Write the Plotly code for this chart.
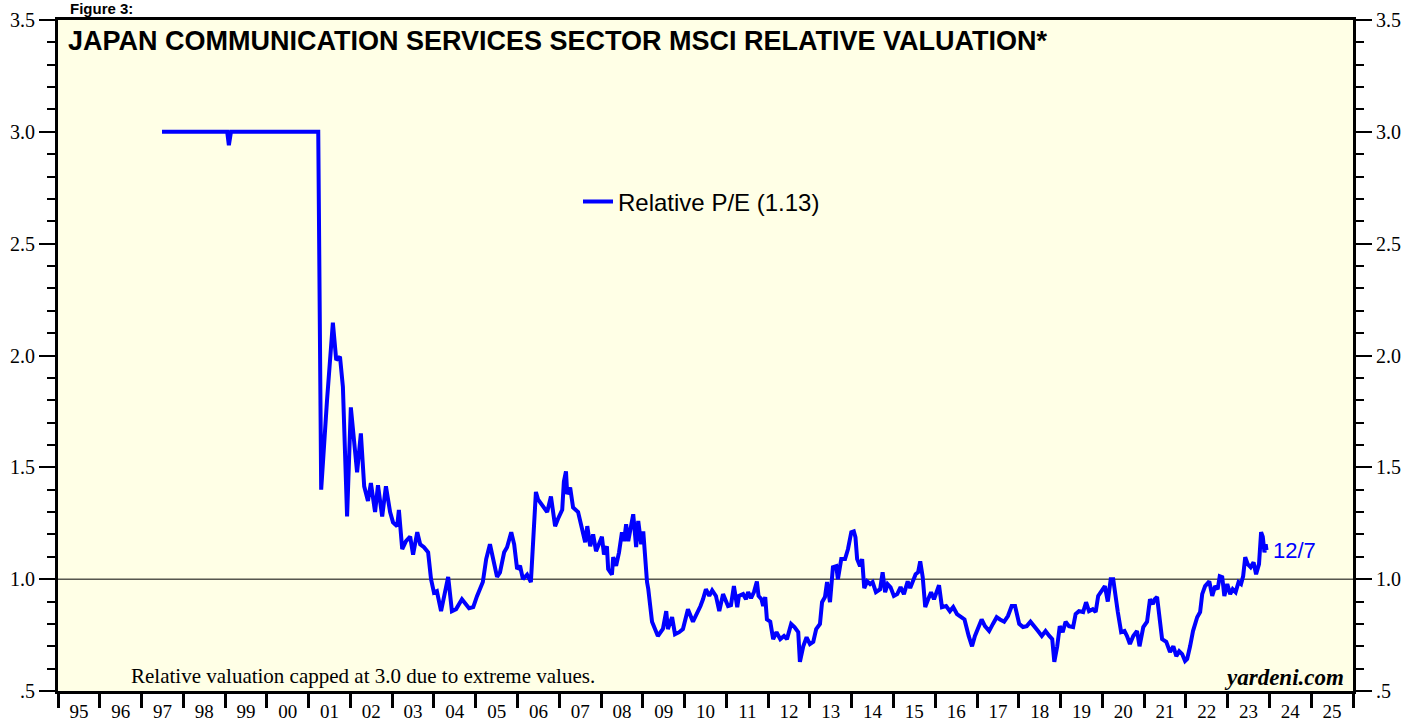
import plotly.graph_objects as go

# ---- data (decimal year, relative P/E) ----
years = [
    1997.49, 1999.05, 1999.09, 1999.14, 2001.23, 2001.30, 2001.44, 2001.58, 2001.66, 2001.75,
    2001.82, 2001.92, 2002.01, 2002.16, 2002.25, 2002.33, 2002.42, 2002.49, 2002.59, 2002.66,
    2002.76, 2002.85, 2002.95, 2003.02, 2003.12, 2003.16, 2003.24, 2003.33, 2003.43, 2003.50,
    2003.60, 2003.67, 2003.76, 2003.86, 2003.93, 2004.00, 2004.07, 2004.17, 2004.34, 2004.43,
    2004.53, 2004.67, 2004.84, 2004.94, 2005.03, 2005.17, 2005.25, 2005.34, 2005.51, 2005.58,
    2005.68, 2005.75, 2005.85, 2005.92, 2005.99, 2006.06, 2006.13, 2006.23, 2006.32, 2006.37,
    2006.44, 2006.49, 2006.61, 2006.71, 2006.80, 2006.90, 2006.97, 2007.07, 2007.11, 2007.16,
    2007.19, 2007.26, 2007.33, 2007.45, 2007.62, 2007.67, 2007.74, 2007.81, 2007.88, 2008.02,
    2008.07, 2008.14, 2008.17, 2008.26, 2008.29, 2008.36, 2008.43, 2008.50, 2008.55, 2008.60,
    2008.65, 2008.77, 2008.84, 2008.89, 2008.96, 2009.01, 2009.10, 2009.13, 2009.22, 2009.27,
    2009.36, 2009.48, 2009.56, 2009.60, 2009.70, 2009.77, 2009.87, 2009.96, 2010.08, 2010.20,
    2010.32, 2010.38, 2010.44, 2010.51, 2010.59, 2010.66, 2010.75, 2010.83, 2010.92, 2011.04,
    2011.11, 2011.18, 2011.26, 2011.30, 2011.40, 2011.47, 2011.52, 2011.59, 2011.66, 2011.73,
    2011.77, 2011.84, 2011.88, 2011.93, 2011.97, 2012.05, 2012.12, 2012.20, 2012.29, 2012.38,
    2012.45, 2012.55, 2012.63, 2012.72, 2012.76, 2012.84, 2012.92, 2013.00, 2013.08, 2013.15,
    2013.24, 2013.29, 2013.36, 2013.41, 2013.48, 2013.55, 2013.63, 2013.67, 2013.75, 2013.84,
    2013.91, 2013.99, 2014.05, 2014.09, 2014.13, 2014.20, 2014.25, 2014.30, 2014.37, 2014.44,
    2014.50, 2014.58, 2014.68, 2014.74, 2014.80, 2014.86, 2014.93, 2015.01, 2015.09, 2015.17,
    2015.25, 2015.34, 2015.40, 2015.46, 2015.53, 2015.59, 2015.64, 2015.70, 2015.76, 2015.83,
    2015.90, 2015.97, 2016.03, 2016.09, 2016.16, 2016.26, 2016.35, 2016.43, 2016.52, 2016.62,
    2016.70, 2016.80, 2016.88, 2016.95, 2017.03, 2017.11, 2017.19, 2017.29, 2017.38, 2017.47,
    2017.55, 2017.65, 2017.74, 2017.83, 2017.91, 2018.01, 2018.10, 2018.19, 2018.28, 2018.37,
    2018.46, 2018.55, 2018.64, 2018.73, 2018.80, 2018.85, 2018.92, 2018.98, 2019.05, 2019.12,
    2019.20, 2019.30, 2019.36, 2019.44, 2019.54, 2019.61, 2019.68, 2019.77, 2019.84, 2019.90,
    2019.99, 2020.06, 2020.13, 2020.20, 2020.26, 2020.31, 2020.37, 2020.45, 2020.53, 2020.59,
    2020.66, 2020.74, 2020.83, 2020.89, 2020.98, 2021.07, 2021.14, 2021.21, 2021.25, 2021.31,
    2021.37, 2021.43, 2021.53, 2021.62, 2021.70, 2021.77, 2021.84, 2021.91, 2021.98, 2022.03,
    2022.10, 2022.17, 2022.27, 2022.34, 2022.39, 2022.46, 2022.56, 2022.63, 2022.70, 2022.76,
    2022.81, 2022.87, 2022.92, 2022.99, 2023.06, 2023.12, 2023.19, 2023.26, 2023.32, 2023.37,
    2023.42, 2023.48, 2023.55, 2023.62, 2023.68, 2023.75, 2023.80, 2023.84, 2023.88, 2023.91,
    2023.93,
]
relative_pe = [
    3.00, 3.00, 2.94, 3.00, 3.00, 1.40, 1.80, 2.147, 1.98, 1.995,
    1.86, 1.28, 1.768, 1.478, 1.652, 1.415, 1.35, 1.43, 1.30, 1.42,
    1.28, 1.415, 1.30, 1.254, 1.237, 1.31, 1.134, 1.17, 1.19, 1.11,
    1.21, 1.156, 1.143, 1.12, 1.00, 0.94, 0.946, 0.857, 1.01, 0.857,
    0.866, 0.91, 0.87, 0.875, 0.924, 0.987, 1.09, 1.156, 1.01, 1.03,
    1.12, 1.143, 1.21, 1.156, 1.045, 1.06, 1.00, 1.02, 0.987, 1.165,
    1.39, 1.357, 1.326, 1.30, 1.37, 1.237, 1.27, 1.31, 1.437, 1.482,
    1.38, 1.41, 1.32, 1.30, 1.165, 1.237, 1.147, 1.20, 1.125, 1.19,
    1.11, 1.147, 1.045, 1.02, 1.098, 1.06, 1.12, 1.21, 1.17, 1.246,
    1.17, 1.29, 1.143, 1.26, 1.156, 1.214, 0.987, 0.956, 0.81, 0.786,
    0.746, 0.777, 0.857, 0.777, 0.83, 0.754, 0.763, 0.777, 0.866, 0.81,
    0.853, 0.88, 0.91, 0.955, 0.925, 0.95, 0.925, 0.857, 0.933, 0.88,
    0.884, 0.969, 0.875, 0.925, 0.933, 0.91, 0.942, 0.915, 0.942, 0.99,
    0.925, 0.91, 0.88, 0.92, 0.82, 0.81, 0.732, 0.763, 0.732, 0.746,
    0.732, 0.80, 0.786, 0.763, 0.63, 0.70, 0.74, 0.71, 0.72, 0.777,
    0.80, 0.897, 0.92, 0.987, 0.897, 1.053, 1.058, 1.00, 1.09, 1.09,
    1.134, 1.21, 1.214, 1.187, 1.09, 1.058, 1.09, 0.96, 0.99, 0.978,
    0.987, 0.942, 0.955, 1.031, 0.942, 0.978, 0.964, 0.925, 0.933, 0.964,
    0.933, 0.99, 0.96, 0.987, 1.022, 1.031, 1.08, 1.009, 0.875, 0.91,
    0.942, 0.91, 0.946, 0.973, 0.875, 0.88, 0.857, 0.875, 0.844, 0.83,
    0.82, 0.746, 0.70, 0.746, 0.786, 0.82, 0.79, 0.768, 0.80, 0.83,
    0.82, 0.81, 0.835, 0.88, 0.88, 0.80, 0.786, 0.79, 0.81, 0.786,
    0.768, 0.746, 0.768, 0.746, 0.732, 0.63, 0.70, 0.79, 0.763, 0.81,
    0.79, 0.786, 0.844, 0.857, 0.853, 0.897, 0.857, 0.866, 0.853, 0.925,
    0.946, 0.969, 0.90, 1.00, 1.00, 0.925, 0.853, 0.763, 0.768, 0.746,
    0.71, 0.746, 0.768, 0.70, 0.786, 0.81, 0.91, 0.888, 0.91, 0.92,
    0.835, 0.732, 0.72, 0.674, 0.70, 0.656, 0.678, 0.665, 0.634, 0.643,
    0.70, 0.768, 0.83, 0.853, 0.933, 0.969, 0.99, 0.925, 0.969, 0.955,
    1.013, 1.009, 0.925, 0.978, 0.933, 0.955, 0.942, 0.987, 0.978, 1.013,
    1.098, 1.067, 1.053, 1.075, 1.022, 1.067, 1.21, 1.19, 1.12, 1.156,
    1.13,
]

series_name = "Relative P/E (1.13)"
last_date_label = "12/7"
reference_level = 1.0

x_range = [1995, 2026]
year_bounds = list(range(1995, 2027))
year_label_pos = [y + 0.5 for y in range(1995, 2026)]
year_labels = [f"{y % 100:02d}" for y in range(1995, 2026)]

y_range = [0.5, 3.5]
y_tick_vals = [0.5, 1.0, 1.5, 2.0, 2.5, 3.0, 3.5]
y_tick_text = [".5", "1.0", "1.5", "2.0", "2.5", "3.0", "3.5"]

title_text = "JAPAN COMMUNICATION SERVICES SECTOR MSCI RELATIVE VALUATION*"
note_text = "Relative valuation capped at 3.0 due to extreme values."
source_text = "yardeni.com"
figure_text = "Figure 3:"

SERIF = "Liberation Serif, Times New Roman, serif"
SANS = "Liberation Sans, Arial, sans-serif"
BLUE = "#0000FF"

W, H = 1406, 721
ML, MR, MT, MB = 58, 53, 20, 30
PW, PH = W - ML - MR, H - MT - MB


def px_x(px):
    return (px - ML) / PW


def px_y(py):
    return 1 - (py - MT) / PH


fig = go.Figure()
fig.add_trace(go.Scatter(
    x=years, y=relative_pe, mode="lines", name=series_name,
    line=dict(color=BLUE, width=4), showlegend=True,
))

# reference line at 1.0
fig.add_shape(type="line", xref="paper", yref="y", x0=0, x1=1,
              y0=reference_level, y1=reference_level,
              line=dict(color="black", width=1), layer="below")

yaxis_common = dict(
    range=y_range, tickmode="array", tickvals=y_tick_vals, ticktext=y_tick_text,
    ticks="outside", ticklen=16, tickwidth=2, tickcolor="black",
    tickfont=dict(family=SERIF, size=20, color="black"),
    showgrid=False, zeroline=False, showline=True, linewidth=3, linecolor="black",
    minor=dict(tickmode="linear", tick0=0.5, dtick=0.1, ticks="outside",
               ticklen=8, tickwidth=2, tickcolor="black", showgrid=False),
    fixedrange=True, automargin=False,
)

fig.update_layout(
    width=W, height=H,
    margin=dict(l=ML, r=MR, t=MT, b=MB, pad=0, autoexpand=False),
    paper_bgcolor="white", plot_bgcolor="#FFFFE6",
    showlegend=True,
    legend=dict(x=px_x(578), y=px_y(202), xanchor="left", yanchor="middle",
                bgcolor="rgba(0,0,0,0)", borderwidth=0,
                font=dict(family=SANS, size=24, color="black"),
                itemwidth=30),
    xaxis=dict(
        range=x_range, tickmode="array", tickvals=year_label_pos, ticktext=year_labels,
        ticks="outside", ticklen=7, tickcolor="rgba(0,0,0,0)",
        ticklabelstandoff=-6,
        tickfont=dict(family=SERIF, size=19, color="black"),
        showgrid=False, zeroline=False, showline=True, linewidth=3, linecolor="black",
        mirror=True, automargin=False,
        minor=dict(tickmode="array", tickvals=year_bounds, ticks="outside",
                   ticklen=14, tickwidth=3, tickcolor="black", showgrid=False),
        fixedrange=True,
    ),
    yaxis=dict(side="left", **yaxis_common),
    yaxis2=dict(side="right", overlaying="y", anchor="x", matches="y", **yaxis_common),
)

fig.add_trace(go.Scatter(x=[None], y=[None], yaxis="y2", showlegend=False,
                         hoverinfo="skip"))

fig.add_annotation(text=f"<b>{title_text}</b>", xref="paper", yref="paper",
                   x=px_x(66), y=px_y(41), xanchor="left", yanchor="middle",
                   showarrow=False, font=dict(family=SANS, size=27, color="black"))
fig.add_annotation(text=f"<b>{figure_text}</b>", xref="paper", yref="paper",
                   x=px_x(68), y=px_y(9), xanchor="left", yanchor="middle",
                   showarrow=False, font=dict(family=SANS, size=15, color="black"))
fig.add_annotation(text=note_text, xref="paper", yref="paper",
                   x=px_x(129), y=px_y(676), xanchor="left", yanchor="middle",
                   showarrow=False, font=dict(family=SERIF, size=21, color="black"))
fig.add_annotation(text=f"<b><i>{source_text}</i></b>", xref="paper", yref="paper",
                   x=px_x(1346), y=px_y(677), xanchor="right", yanchor="middle",
                   showarrow=False, font=dict(family=SERIF, size=23, color="black"))
fig.add_annotation(text=last_date_label, x=years[-1], y=relative_pe[-1], xref="x", yref="y",
                   xanchor="left", yanchor="middle", xshift=4, showarrow=False,
                   font=dict(family=SANS, size=22, color=BLUE))

fig.write_html("out.html", config={"displayModeBar": False},
               post_script="document.body.style.margin='0';document.body.style.overflow='hidden';")
